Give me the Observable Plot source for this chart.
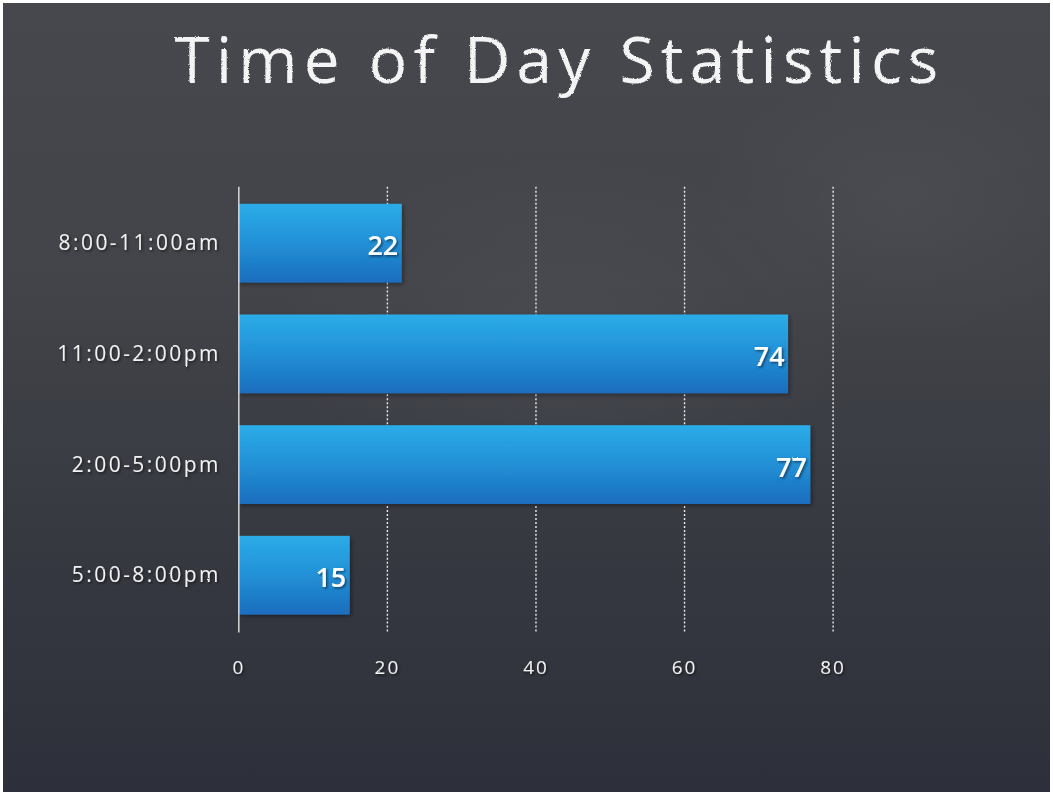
<!DOCTYPE html>
<html>
<head>
<meta charset="utf-8">
<script src="https://cdn.jsdelivr.net/npm/d3@7"></script>
<script src="https://cdn.jsdelivr.net/npm/@observablehq/plot@0.6"></script>
<style>
  html, body { margin: 0; padding: 0; background: #ffffff; }
  #board {
    position: absolute; left: 3px; top: 3px; width: 1047px; height: 789px;
    overflow: hidden;
    background:
      radial-gradient(ellipse 420px 260px at 560px 330px, rgba(255,255,255,0.04), rgba(255,255,255,0) 70%),
      radial-gradient(ellipse 300px 200px at 900px 200px, rgba(255,255,255,0.03), rgba(255,255,255,0) 70%),
      linear-gradient(180deg, #46484d 0%, #424449 35%, #383a42 65%, #2d2f3a 100%);
  }
  #title {
    position: absolute; left: 33px; top: 0; width: 1047px; height: 137px;
    text-align: center;
    font-family: "Open Sans", sans-serif; font-weight: 400;
    font-size: 64px; letter-spacing: 6.2px; color: #f4f4f4;
    line-height: 112px;
    filter: url(#chalk);
  }
  #chart { position: absolute; left: -3px; top: 137px; }
</style>
</head>
<body>
<svg width="0" height="0" style="position:absolute">
  <defs>
    <filter id="chalk" x="-5%" y="-20%" width="110%" height="140%">
      <feTurbulence type="fractalNoise" baseFrequency="0.9" numOctaves="2" seed="3" result="noise"/>
      <feDisplacementMap in="SourceGraphic" in2="noise" scale="2.5" xChannelSelector="R" yChannelSelector="G"/>
    </filter>
  </defs>
</svg>
<div id="board">
  <div id="title">Time of Day Statistics</div>
  <div id="chart"></div>
</div>
<script>
const categories = ["8:00-11:00am", "11:00-2:00pm", "2:00-5:00pm", "5:00-8:00pm"];
const values = [22, 74, 77, 15];
const xTicks = [0, 20, 40, 60, 80];
const gridTicks = [20, 40, 60, 80];

const data = categories.map((c, i) => ({category: c, value: values[i]}));

const chart = Plot.plot({
  width: 1053,
  height: 655,
  marginLeft: 239,
  marginRight: 69,
  marginTop: 47,
  marginBottom: 161,
  style: {background: "transparent", color: "#f2f2f2", fontFamily: "Open Sans, sans-serif"},
  x: {domain: [0, 100], ticks: xTicks},
  y: {domain: categories, paddingInner: 0.286, paddingOuter: 0.15},
  marks: [
    Plot.ruleX(gridTicks, {stroke: "#ececec", strokeWidth: 1.4, strokeDasharray: "2,2"}),
    Plot.barX(data, {x: "value", y: "category", fill: "url(#barGrad)", className: "bars"}),
    Plot.ruleX([0], {stroke: "#d8d8d8", strokeWidth: 1.5}),
    Plot.text(data, {x: "value", y: "category", text: d => String(d.value), textAnchor: "end", dx: -4, dy: 3,
      fill: "#ffffff", fontSize: 27, fontWeight: 600, className: "vals"}),
    Plot.axisY({tickSize: 0, tickPadding: 18, fontSize: 21, label: null, className: "ylab"}),
    Plot.axisX({ticks: xTicks, tickSize: 0, tickPadding: 28, fontSize: 19, label: null, className: "xlab"})
  ]
});

const defs = d3.select(chart).insert("defs", ":first-child");
defs.html(`
  <linearGradient id="barGrad" x1="0" y1="0" x2="0" y2="1">
    <stop offset="0" stop-color="#2bace8"/>
    <stop offset="0.5" stop-color="#2290d6"/>
    <stop offset="1" stop-color="#1a6dbd"/>
  </linearGradient>
  <filter id="barShadow" x="-5%" y="-10%" width="115%" height="130%">
    <feDropShadow dx="2" dy="2" stdDeviation="2" flood-color="#000" flood-opacity="0.35"/>
  </filter>
  <filter id="txtChalk" x="-10%" y="-20%" width="120%" height="140%">
    <feTurbulence type="fractalNoise" baseFrequency="1.1" numOctaves="2" seed="5" result="noise"/>
    <feDisplacementMap in="SourceGraphic" in2="noise" scale="1.6" xChannelSelector="R" yChannelSelector="G" result="d"/>
    <feDropShadow dx="1.5" dy="1.5" stdDeviation="1" flood-color="#000" flood-opacity="0.5"/>
  </filter>
`);
d3.select(chart).selectAll(".bars rect").attr("filter", "url(#barShadow)");
d3.select(chart).selectAll(".vals, .ylab, .xlab").attr("filter", "url(#txtChalk)");
d3.select(chart).selectAll(".ylab text").attr("fill", "#f2f2f2").attr("letter-spacing", "2.5px");
d3.select(chart).selectAll(".xlab text").attr("fill", "#f2f2f2").attr("letter-spacing", "2px");

document.getElementById("chart").appendChild(chart);
</script>
</body>
</html>
